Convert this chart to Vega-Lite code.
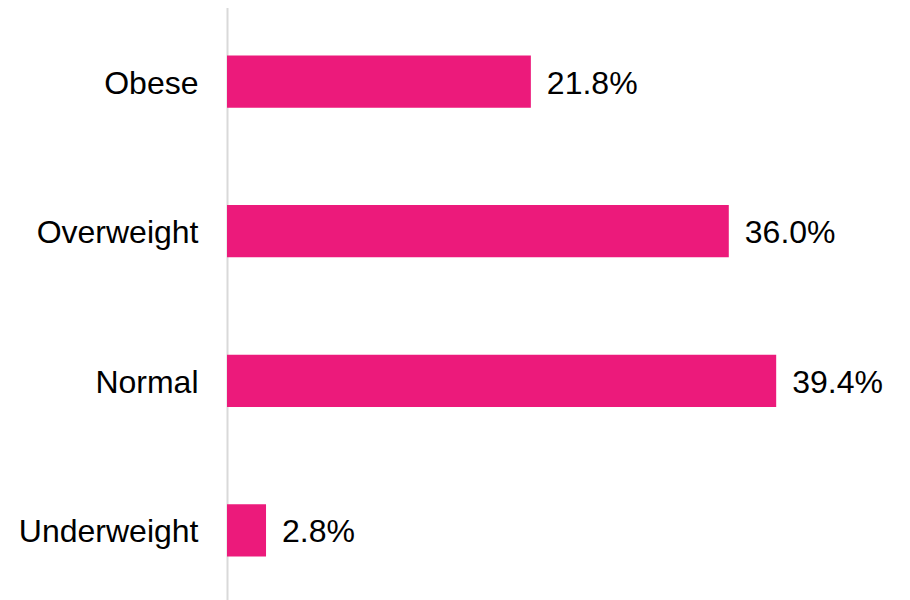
{
  "$schema": "https://vega.github.io/schema/vega-lite/v6.json",
  "width": 683,
  "height": 597,
  "autosize": {"type": "none"},
  "padding": {"left": 227, "top": 7.5, "right": 0, "bottom": 0},
  "background": "white",
  "config": {"view": {"stroke": null}, "font": "Liberation Sans"},
  "data": {
    "values": [
      {"category": "Obese", "value": 0.218},
      {"category": "Overweight", "value": 0.360},
      {"category": "Normal", "value": 0.394},
      {"category": "Underweight", "value": 0.028}
    ]
  },
  "encoding": {
    "y": {
      "field": "category",
      "type": "nominal",
      "sort": null,
      "scale": {"paddingInner": 0.65, "paddingOuter": 0.32},
      "axis": {
        "title": null,
        "ticks": false,
        "domain": true,
        "domainColor": "#d9d9d9",
        "domainWidth": 2,
        "labelFont": "Liberation Sans",
        "labelFontSize": 32,
        "labelColor": "#000000",
        "labelPadding": 29,
        "labelLimit": 300,
        "labelOffset": 2,
        "grid": false
      }
    },
    "x": {
      "field": "value",
      "type": "quantitative",
      "scale": {"domain": [0, 0.49], "nice": false, "zero": true},
      "axis": null
    }
  },
  "layer": [
    {"mark": {"type": "bar", "color": "#EC1A7B"}},
    {
      "mark": {"type": "text", "align": "left", "baseline": "middle", "dx": 16, "dy": 2, "fontSize": 32, "font": "Liberation Sans", "color": "#000000"},
      "encoding": {"text": {"field": "value", "type": "quantitative", "format": ".1%"}}
    }
  ]
}
